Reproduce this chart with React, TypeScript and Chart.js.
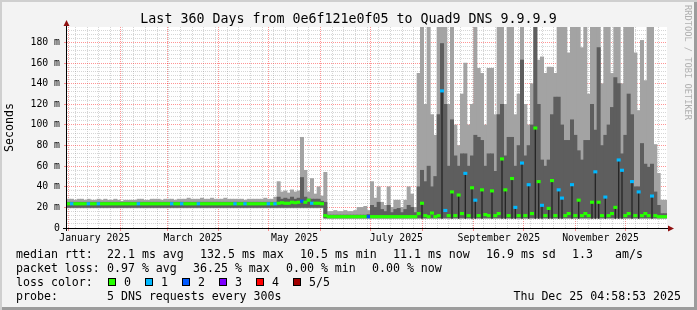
import React, { useEffect, useRef } from 'react';
import { Chart, registerables } from 'chart.js';

Chart.register(...registerables);

// ---- axes (days since 1 Jan 2025) ----
const X_MIN = -1.1;
const X_MAX = 358.9;
const MONTH_STARTS = [0, 31, 59, 90, 120, 151, 181, 212, 243, 273, 304, 334];
const WEEK_STARTS = [4, 11, 18, 25, 32, 39, 46, 53, 60, 67, 74, 81, 88, 95, 102, 109, 116, 123, 130, 137, 144, 158, 165, 172, 179, 186, 193, 200, 207, 214, 221, 228, 235, 242, 249, 256, 263, 270, 277, 284, 291, 298, 305, 312, 319, 326, 333, 340, 347, 354];
const MONTH_LABEL_DAYS = [15.5, 74.5, 135.5, 196.5, 258, 319];
const MONTH_LABELS = ['January 2025', 'March 2025', 'May 2025', 'July 2025', 'September 2025', 'November 2025'];
const Y_MAX = 195;
const Y_TICKS = [0, 20, 40, 60, 80, 100, 120, 140, 160, 180];
const Y_MINOR = [4, 8, 12, 16, 24, 28, 32, 36, 44, 48, 52, 56, 64, 68, 72, 76, 84, 88, 92, 96, 104, 108, 112, 116, 124, 128, 132, 136, 144, 148, 152, 156, 164, 168, 172, 176, 184, 188, 192];

// ---- data: one column per 2 days, values in ms ----
const LIGHT_LO = [
  19.5, 19.5, 19.5, 19.5, 19.5, 19.5, 19.5, 19.5, 19.5, 19.5, 19.5, 19.5, 19.5, 19.5, 19.5, 19.5, 19.5, 19.5, 19.5, 19.5,
  19.5, 19.5, 19.5, 19.5, 19.5, 19.5, 19.5, 19.5, 19.5, 19.5, 19.5, 19.5, 19.5, 19.5, 19.5, 19.5, 19.5, 19.5, 19.5, 19.5,
  19.5, 19.5, 19.5, 19.5, 19.5, 19.5, 19.5, 19.5, 19.5, 19.5, 19.5, 19.5, 19.5, 19.5, 19.5, 19.5, 19.5, 19.5, 19.5, 19.5,
  19.5, 19.5, 19.5, 19.5, 19.5, 19.5, 19.5, 19.5, 19.5, 19.5, 19.5, 19.5, 19.5, 19.5, 19.5, 19.5, 19.5, 9, 9, 9,
  9, 9, 9, 9, 9, 9, 9, 9, 9, 9, 9, 9, 9, 9, 9, 9, 9, 9, 9, 9,
  9, 9, 9, 9, 9, 9, 9, 9, 9, 9, 9, 9, 9, 9, 9, 9, 9, 9, 9, 9,
  9, 9, 9, 9, 9, 9, 9, 9, 9, 9, 9, 9, 9, 9, 9, 9, 9, 9, 9, 9,
  9, 9, 9, 9, 9, 9, 9, 9, 9, 9, 9, 9, 9, 9, 9, 9, 9, 9, 9, 9,
  9, 9, 9, 9, 9, 9, 9, 9, 9, 9, 9, 9, 9, 9, 9, 9, 9, 9, 9, 9,
];
const LIGHT_HI = [
  28, 28, 27, 28, 28, 27, 28, 27, 27, 28, 27, 28, 27, 27, 28, 27, 26, 27, 27, 27,
  27, 28, 28, 27, 27, 28, 28, 28, 27, 28, 28, 28, 27, 28, 28, 28, 29, 28, 28, 28,
  29, 28, 28, 29, 28, 28, 28, 29, 28, 28, 28, 28, 28, 27, 28, 28, 28, 28, 28, 29,
  28, 28, 30, 45, 35, 36, 34, 37, 35, 36, 88, 56, 35, 48, 33, 40, 31, 54, 16, 16,
  17, 16, 16, 17, 16, 16, 17, 20, 20, 21, 17, 45, 29, 40, 25, 22, 40, 20, 27, 27,
  20, 27, 40, 33, 20, 150, 195, 120, 195, 110, 90, 195, 195, 195, 120, 195, 100, 80, 130, 160,
  100, 120, 195, 155, 150, 100, 155, 155, 110, 195, 195, 120, 195, 195, 110, 130, 195, 120, 100, 140,
  195, 163, 166, 150, 156, 156, 150, 195, 195, 195, 170, 195, 195, 195, 175, 195, 130, 195, 195, 195,
  140, 195, 195, 150, 195, 195, 140, 195, 195, 195, 170, 114, 182, 143, 195, 195, 81, 53, 27, 27,
];
const DARK_LO = [
  20, 20, 20, 20, 20, 20, 20, 20, 20, 20, 20, 20, 20, 20, 20, 20, 20, 20, 20, 20,
  20, 20, 20, 20, 20, 20, 20, 20, 20, 20, 20, 20, 20, 20, 20, 20, 20, 20, 20, 20,
  20, 20, 20, 20, 20, 20, 20, 20, 20, 20, 20, 20, 20, 20, 20, 20, 20, 20, 20, 20,
  20, 20, 20, 20, 20, 20, 20, 20, 20, 20, 20, 20, 20, 20, 20, 20, 20, 10, 10, 10,
  10, 10, 10, 10, 10, 10, 10, 10, 10, 10, 10, 10, 10, 10, 10, 10, 10, 10, 10, 10,
  10, 10, 10, 10, 10, 10, 10, 10, 10, 10, 10, 10, 10, 10, 10, 10, 10, 10, 10, 10,
  10, 10, 10, 10, 10, 10, 10, 10, 10, 10, 10, 10, 10, 10, 10, 10, 10, 10, 10, 10,
  10, 10, 10, 10, 10, 10, 10, 10, 10, 10, 10, 10, 10, 10, 10, 10, 10, 10, 10, 10,
  10, 10, 10, 10, 10, 10, 10, 10, 10, 10, 10, 10, 10, 10, 10, 10, 10, 10, 10, 10,
];
const DARK_HI = [
  25, 25, 25, 25, 25, 25, 25, 25, 25, 25, 25, 25, 25, 25, 25, 25, 25, 25, 25, 25,
  25, 25, 25, 25, 25, 25, 25, 25, 25, 25, 25, 25, 25, 25, 25, 25, 25, 25, 25, 25,
  25, 25, 25, 25, 25, 25, 25, 25, 25, 25, 25, 25, 25, 25, 25, 25, 25, 25, 25, 25,
  25, 25, 25, 30, 28, 29, 28, 30, 28, 29, 49, 30, 28, 28, 28, 28, 26, 25, 12.5, 12.5,
  12.5, 12.5, 12.5, 12.5, 12.5, 12.5, 12.5, 12.5, 12.5, 12.5, 13, 22, 20, 25, 18, 16, 22, 15, 18, 19,
  15, 18, 22, 20, 15, 40, 56, 45, 60, 40, 50, 110, 179, 120, 60, 105, 70, 60, 72, 72,
  60, 70, 90, 88, 85, 60, 72, 72, 55, 110, 120, 70, 88, 88, 60, 80, 163, 70, 80, 100,
  195, 120, 66, 60, 66, 110, 127, 127, 100, 85, 85, 105, 90, 75, 66, 85, 85, 120, 95, 175,
  80, 90, 100, 117, 146, 140, 72, 90, 130, 110, 40, 40, 82, 62, 59, 62, 35, 22, 14, 14,
];
const MEDIAN = [
  23.5, 23.5, 23.5, 23.5, 23.5, 23.5, 23.5, 23.5, 23.5, 23.5, 23.5, 23.5, 23.5, 23.5, 23.5, 23.5, 23.5, 23.5, 23.5, 23.5,
  23.5, 23.5, 23.5, 23.5, 23.5, 23.5, 23.5, 23.5, 23.5, 23.5, 23.5, 23.5, 23.5, 23.5, 23.5, 23.5, 23.5, 23.5, 23.5, 23.5,
  23.5, 23.5, 23.5, 23.5, 23.5, 23.5, 23.5, 23.5, 23.5, 23.5, 23.5, 23.5, 23.5, 23.5, 23.5, 23.5, 23.5, 23.5, 23.5, 23.5,
  23.5, 23.5, 23.5, 24, 24.5, 24, 24, 25, 24.5, 25, 26, 25, 27, 24, 24, 24, 23.5, 12, 11, 11,
  11, 11, 11, 11, 11, 11, 11, 11, 11, 11, 11, 11, 11, 11, 11, 11, 11, 11, 11, 11,
  11, 11, 11, 11, 11, 14, 24, 12, 11, 14.5, 11, 12, 133, 17, 12, 35, 12, 32, 14, 53,
  12, 39, 27, 12, 37, 13, 12, 36, 12, 14, 67, 37, 12, 48, 20, 12, 63, 12, 42, 14,
  97, 45, 22, 12, 19, 46, 12, 37, 29, 12, 14, 42, 12, 27, 12, 14, 12, 25, 54.5, 25,
  12, 30, 12, 14, 20, 66, 56, 12, 14, 45, 12, 35, 12, 14, 12, 31, 12, 11, 11, 11,
];
const LOSS = [
  0, 1, 0, 0, 0, 0, 1, 0, 0, 1, 0, 0, 0, 0, 0, 0, 0, 0, 0, 0,
  0, 1, 0, 0, 0, 0, 0, 0, 0, 0, 0, 1, 0, 0, 1, 0, 0, 0, 0, 1,
  0, 0, 0, 0, 0, 0, 0, 0, 0, 0, 1, 0, 0, 1, 0, 0, 0, 0, 0, 0,
  1, 0, 1, 0, 0, 0, 0, 0, 0, 0, 2, 0, 0, 1, 0, 0, 0, 0, 0, 0,
  0, 0, 0, 0, 0, 0, 0, 0, 0, 0, 2, 0, 0, 0, 0, 0, 0, 0, 0, 0,
  0, 0, 0, 0, 0, 0, 0, 0, 0, 0, 0, 0, 1, 1, 0, 0, 0, 0, 0, 1,
  0, 0, 1, 0, 0, 0, 0, 0, 0, 0, 0, 0, 0, 0, 1, 0, 1, 0, 1, 0,
  0, 0, 1, 0, 0, 0, 0, 1, 1, 0, 0, 1, 0, 0, 0, 0, 0, 0, 1, 0,
  0, 1, 0, 0, 0, 1, 1, 0, 0, 1, 0, 1, 0, 0, 0, 1, 0, 0, 0, 0,
];
const LOSS_COLORS = ['#26ff00', '#00b8ff', '#0059ff', '#7e00ff', '#ff0000', '#a10000'];
const LOSS_LABELS = ['0', '1', '2', '3', '4', '5/5'];

// ---- legend texts ----
const TITLE = 'Last 360 Days from 0e6f121e0f05 to Quad9 DNS 9.9.9.9';
const ROW_RTT = ['median rtt:', '22.1 ms avg', '132.5 ms max', '10.5 ms min', '11.1 ms now', '16.9 ms sd', '1.3', 'am/s'];
const ROW_RTT_X = [16, 107, 200, 300, 393, 486, 572, 615];
const ROW_LOSS = ['packet loss:', '0.97 % avg', '36.25 % max', '0.00 % min', '0.00 % now'];
const ROW_LOSS_X = [16, 107, 193, 286, 372];
const LOSS_BOX_X = [108, 145, 182, 219, 256, 293];
const PROBE = ['probe:', '5 DNS requests every 300s'];
const STAMP = 'Thu Dec 25 04:58:53 2025';

const MONO = '"DejaVu Sans Mono", monospace';
const MAJOR = 'rgba(255,0,0,0.42)';
const MINOR = 'rgba(128,128,128,0.32)';

const rrdPlugin = {
  id: 'rrdFrame',
  beforeDraw(chart: any) {
    const { ctx, chartArea: a } = chart;
    ctx.save();
    ctx.fillStyle = '#ffffff';
    ctx.fillRect(a.left, a.top, a.right - a.left, a.bottom - a.top);
    ctx.restore();
  },
  afterDraw(chart: any) {
    const { ctx, chartArea: a } = chart;
    ctx.save();
    ctx.strokeStyle = '#000000';
    ctx.lineWidth = 1;
    ctx.beginPath();
    ctx.moveTo(a.left - 0.5, a.bottom + 3);
    ctx.lineTo(a.left - 0.5, a.top - 3);
    ctx.moveTo(a.left - 4, a.bottom + 0.5);
    ctx.lineTo(a.right + 2, a.bottom + 0.5);
    ctx.stroke();
    ctx.fillStyle = '#8f1010';
    ctx.beginPath();
    ctx.moveTo(a.left - 3.5, a.top - 1);
    ctx.lineTo(a.left + 2.5, a.top - 1);
    ctx.lineTo(a.left - 0.5, a.top - 7);
    ctx.closePath();
    ctx.fill();
    ctx.beginPath();
    ctx.moveTo(a.right + 1, a.bottom - 2.5);
    ctx.lineTo(a.right + 1, a.bottom + 3.5);
    ctx.lineTo(a.right + 7, a.bottom + 0.5);
    ctx.closePath();
    ctx.fill();
    ctx.restore();
  },
};

const abs = (left: number, top: number, extra: any = {}) => ({
  position: 'absolute' as const,
  left,
  top,
  whiteSpace: 'pre' as const,
  ...extra,
});

export default function App() {
  const ref = useRef<HTMLCanvasElement>(null);

  useEffect(() => {
    document.body.style.margin = '0';
    const canvas = ref.current;
    if (!canvas) return;
    const tickFont = { family: 'DejaVu Sans Mono', size: 9.8 };
    const barCommon = { grouped: false, barPercentage: 1, categoryPercentage: 1, xAxisID: 'x', yAxisID: 'y', borderWidth: 0 };
    const timeAxis = { type: 'linear', position: 'bottom', min: X_MIN, max: X_MAX, offset: false, bounds: 'data' };
    const chart = new Chart(canvas, {
      type: 'bar',
      data: {
        labels: LIGHT_HI.map((_, i) => String(i)),
        datasets: [
          {
            ...barCommon,
            label: 'median',
            order: 0,
            data: MEDIAN.map((m) => [m - 1.2, m + 1.2]),
            backgroundColor: LOSS.map((l) => LOSS_COLORS[l]),
          },
          {
            ...barCommon,
            label: 'core',
            order: 1,
            barPercentage: 0.4,
            data: MEDIAN.map((m, i) => (m - LIGHT_LO[i] > 8 ? [LIGHT_LO[i], m] : null)),
            backgroundColor: '#262626',
          },
          {
            ...barCommon,
            label: 'dark smoke',
            order: 2,
            data: DARK_LO.map((v, i) => [v, DARK_HI[i]]),
            backgroundColor: '#5e5e5e',
          },
          {
            ...barCommon,
            label: 'light smoke',
            order: 3,
            data: LIGHT_LO.map((v, i) => [v, LIGHT_HI[i]]),
            backgroundColor: '#a3a3a3',
          },
        ],
      } as any,
      options: {
        responsive: false,
        animation: false,
        devicePixelRatio: 1,
        layout: { padding: { left: 0, top: 27, right: 30, bottom: 62 } },
        plugins: { legend: { display: false }, tooltip: { enabled: false }, title: { display: false } },
        scales: {
          x: { type: 'category', display: false, offset: true, grid: { display: false } },
          xMinor: {
            ...timeAxis, weight: 0, z: -1,
            afterBuildTicks: (s: any) => { s.ticks = WEEK_STARTS.filter((d) => !MONTH_STARTS.includes(d)).map((value) => ({ value })); },
            afterFit: (s: any) => { s.height = 0; },
            ticks: { display: false },
            grid: { color: MINOR, drawTicks: false, offset: false },
            border: { display: false, dash: [1, 1] },
          },
          xMonth: {
            ...timeAxis, weight: 0, z: 0,
            afterBuildTicks: (s: any) => { s.ticks = MONTH_STARTS.map((value) => ({ value })); },
            afterFit: (s: any) => { s.height = 0; },
            ticks: { display: false },
            grid: { color: MAJOR, drawTicks: true, tickLength: 3, offset: false },
            border: { display: false, dash: [1, 1] },
          },
          xLabel: {
            ...timeAxis, weight: 2,
            afterBuildTicks: (s: any) => { s.ticks = MONTH_LABEL_DAYS.map((value) => ({ value })); },
            afterFit: (s: any) => { s.height = 20; },
            grid: { display: false, drawTicks: false, offset: false },
            border: { display: false },
            ticks: {
              autoSkip: false, maxRotation: 0, minRotation: 0, padding: 5, color: '#000', font: tickFont,
              callback: (_v: any, i: number) => MONTH_LABELS[i],
            },
          },
          y: {
            type: 'linear', position: 'left', min: 0, max: Y_MAX, weight: 2,
            afterBuildTicks: (s: any) => { s.ticks = Y_TICKS.map((value) => ({ value })); },
            afterFit: (s: any) => { s.width = 67; },
            ticks: { color: '#000', font: tickFont, padding: 4, callback: (v: any) => (v === 0 ? '0' : `${v} m`) },
            grid: { color: MAJOR, drawTicks: true, tickLength: 3 },
            border: { display: false, dash: [1, 1] },
            title: {
              display: true, text: 'Seconds', color: '#000',
              font: { family: 'DejaVu Sans Mono', size: 11.6 }, padding: { top: 3, bottom: 0 },
            },
          },
          yMinor: {
            type: 'linear', position: 'left', min: 0, max: Y_MAX, weight: 0, z: -1,
            afterBuildTicks: (s: any) => { s.ticks = Y_MINOR.map((value) => ({ value })); },
            afterFit: (s: any) => { s.width = 0; },
            ticks: { display: false },
            grid: { color: MINOR, drawTicks: false },
            border: { display: false, dash: [1, 1] },
          },
        },
      } as any,
      plugins: [rrdPlugin],
    });
    return () => chart.destroy();
  }, []);

  const textRow = { fontSize: '11.6px', lineHeight: '14px' };

  return (
    <div
      style={{
        position: 'absolute', left: 0, top: 0, width: 697, height: 310, overflow: 'hidden',
        background: '#f3f3f3', boxShadow: 'inset 2px 2px 0 #cfcfcf, inset -3px -3px 0 #9c9c9c',
        fontFamily: MONO, color: '#000',
      }}
    >
      <canvas ref={ref} width={697} height={310} style={{ position: 'absolute', left: 0, top: 0 }} />
      <div style={abs(0, 11, { width: 697, textAlign: 'center', fontSize: '13.3px', lineHeight: '16px' })}>{TITLE}</div>
      <div style={abs(683, 5, { writingMode: 'vertical-rl', fontSize: '8.7px', lineHeight: '10px', color: '#b0b0b0' })}>
        RRDTOOL / TOBI OETIKER
      </div>
      {ROW_RTT.map((t, i) => (
        <div key={'r' + i} style={abs(ROW_RTT_X[i], 246.7, textRow)}>{t}</div>
      ))}
      {ROW_LOSS.map((t, i) => (
        <div key={'l' + i} style={abs(ROW_LOSS_X[i], 260.7, textRow)}>{t}</div>
      ))}
      <div style={abs(16, 274.7, textRow)}>loss color:</div>
      {LOSS_LABELS.map((t, i) => (
        <React.Fragment key={'c' + i}>
          <div
            style={abs(LOSS_BOX_X[i], 278, {
              width: 8, height: 8, boxSizing: 'border-box', border: '1px solid #000', background: LOSS_COLORS[i],
            })}
          />
          <div style={abs(LOSS_BOX_X[i] + 16, 274.7, textRow)}>{t}</div>
        </React.Fragment>
      ))}
      <div style={abs(16, 288.7, textRow)}>{PROBE[0]}</div>
      <div style={abs(107, 288.7, textRow)}>{PROBE[1]}</div>
      <div style={abs(0, 288.7, { ...textRow, width: 681, textAlign: 'right' })}>{STAMP}</div>
    </div>
  );
}
